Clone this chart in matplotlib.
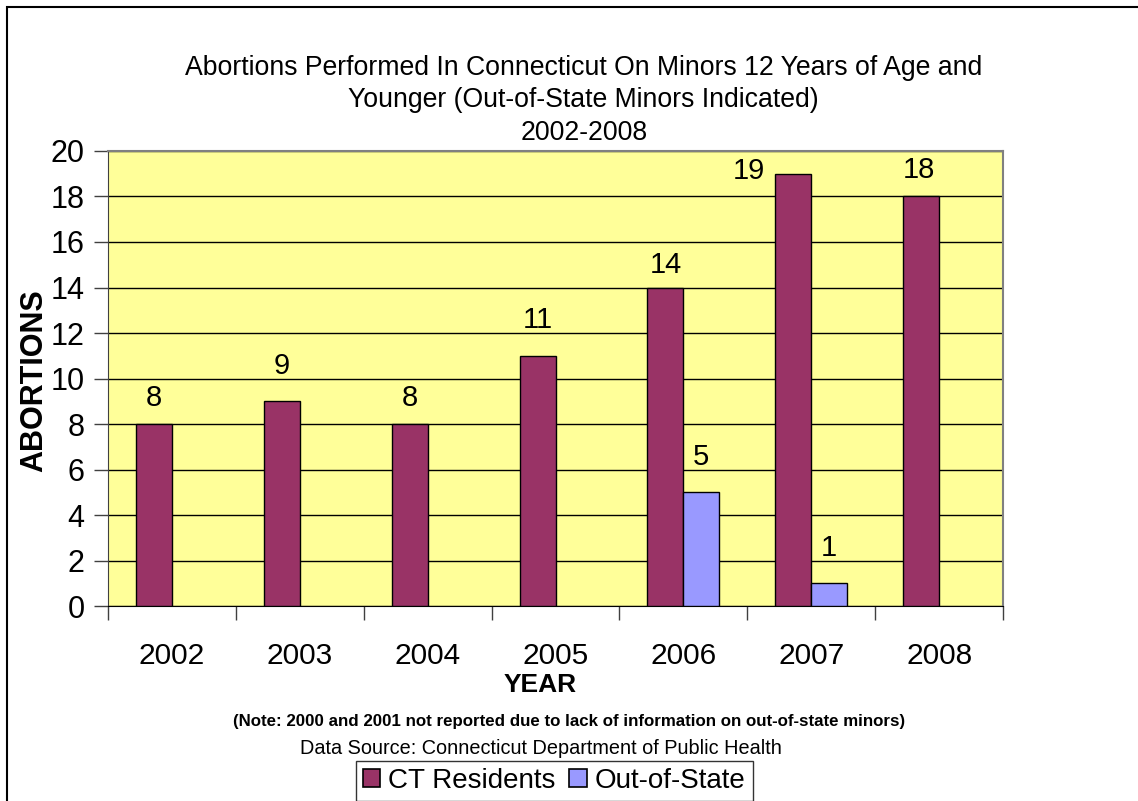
import numpy as np
import matplotlib
matplotlib.use("Agg")
from matplotlib import pyplot as plt
from matplotlib.patches import Patch, Rectangle

years = ["2002", "2003", "2004", "2005", "2006", "2007", "2008"]
ct_residents = [8, 9, 8, 11, 14, 19, 18]
out_of_state = [0, 0, 0, 0, 5, 1, 0]

# label offsets in pixels (dx, dy) as placed in the original chart
ct_label_offsets = [(0, 26), (0, 35), (0, 26), (0, 36), (0, 23), (-44, 3), (-2, 26)]
oos_label_offsets = [(0, 35)] * len(years)

ct_color = "#993366"
oos_color = "#9999FF"

plt.rcParams["font.family"] = ["Liberation Sans", "DejaVu Sans"]

fig = plt.figure(figsize=(11.38, 8.01), dpi=100)
ax = fig.add_axes([0.0949, 0.2434, 0.7865, 0.5681])
ax.set_facecolor("#FFFF99")

x = np.arange(len(years))
bar_w = 0.281
ax.bar(x - bar_w / 2, ct_residents, bar_w, color=ct_color,
       edgecolor="black", linewidth=1, zorder=3)
ax.bar(x + bar_w / 2, out_of_state, bar_w, color=oos_color,
       edgecolor="black", linewidth=[1 if v > 0 else 0 for v in out_of_state],
       zorder=3)

for i, v in enumerate(ct_residents):
    ax.annotate(str(v), (x[i] - bar_w / 2, v), xytext=ct_label_offsets[i],
                textcoords="offset pixels", ha="center", va="center",
                fontsize=21, zorder=4)
for i, v in enumerate(out_of_state):
    if v > 0:
        ax.annotate(str(v), (x[i] + bar_w / 2, v), xytext=oos_label_offsets[i],
                    textcoords="offset pixels", ha="center", va="center",
                    fontsize=21, zorder=4)

ax.set_xlim(-0.5, len(years) - 0.5)
ax.set_ylim(0, 20)
ax.set_yticks(range(0, 21, 2))
ax.yaxis.grid(True, color="black", linewidth=1, zorder=1)
ax.tick_params(axis="y", length=10, width=1, pad=7, labelsize=22,
               color="#404040")

# category boundaries as major ticks, labels on minor ticks
ax.set_xticks(np.arange(-0.5, len(years), 1.0))
ax.set_xticklabels([])
ax.set_xticks(x, minor=True)
ax.set_xticklabels(years, minor=True)
ax.tick_params(axis="x", which="major", length=10, width=1, color="#404040")
ax.tick_params(axis="x", which="minor", length=0, pad=26, labelsize=21.5)

for side in ["top", "right"]:
    ax.spines[side].set_color("#808080")
    ax.spines[side].set_linewidth(1.5)
ax.spines["left"].set_color("#404040")
ax.spines["bottom"].set_color("black")

title_lines = [
    "Abortions Performed In Connecticut On Minors 12 Years of Age and",
    "Younger (Out-of-State Minors Indicated)",
    "2002-2008",
]
for line, ypx in zip(title_lines, [68, 100, 133]):
    fig.text(0.513, 1 - ypx / 801, line, ha="center", va="center", fontsize=19.2)

fig.text(0.0305, 0.525, "ABORTIONS", rotation=90, ha="center", va="center",
         fontsize=22, fontweight="bold")
fig.text(0.475, 0.145, "YEAR", ha="center", va="center",
         fontsize=19, fontweight="bold")
fig.text(0.5, 0.099,
         "(Note: 2000 and 2001 not reported due to lack of information on out-of-state minors)",
         ha="center", va="center", fontsize=12.2, fontweight="bold")
fig.text(0.475, 0.066, "Data Source: Connecticut Department of Public Health",
         ha="center", va="center", fontsize=14.3)

handles = [
    Patch(facecolor=ct_color, edgecolor="black", linewidth=1.2, label="CT Residents"),
    Patch(facecolor=oos_color, edgecolor="black", linewidth=1.2, label="Out-of-State"),
]
leg = fig.legend(handles=handles, loc="upper center",
                 bbox_to_anchor=(0.487, 1 - 761 / 801), ncol=2,
                 fontsize=20, frameon=True, fancybox=False,
                 edgecolor="black", handlelength=0.62, handleheight=0.62,
                 handletextpad=0.3, columnspacing=0.5, borderpad=0.25,
                 borderaxespad=0)
leg.get_frame().set_linewidth(1)

# outer chart border
fig.patches.append(Rectangle((0.0062, -0.02), 1.5, 1.0113, fill=False,
                             edgecolor="black", linewidth=1.5,
                             transform=fig.transFigure, figure=fig))

fig.savefig("out.png", dpi=100)
